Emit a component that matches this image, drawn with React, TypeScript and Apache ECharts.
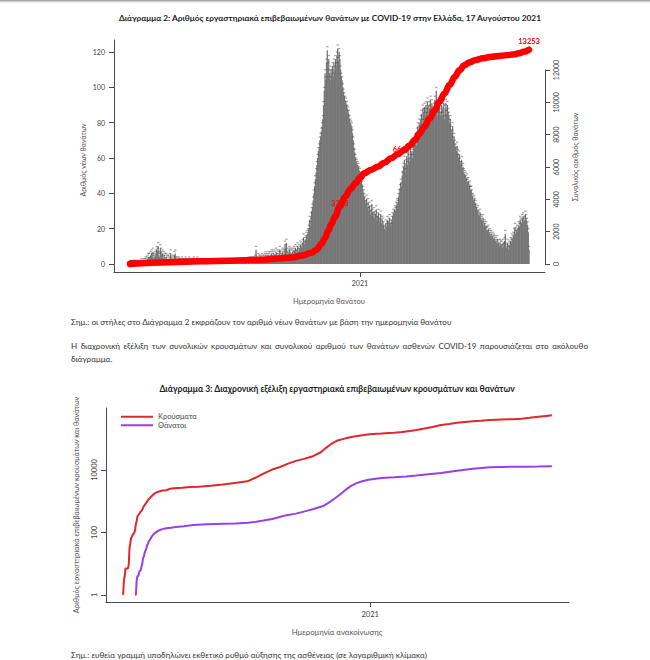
import { useEffect, useRef } from "react";
import * as echarts from "echarts";

const FONT = "Lato, 'Noto Sans', 'DejaVu Sans', sans-serif";

// ---------- Διάγραμμα 2: daily deaths by date of death (from 26 Feb 2020) ----------
const deathsFeb2020 = [0, 0, 0, 0];
const deathsMar2020 = [0, 0, 0, 0, 0, 0, 0, 0, 0, 0, 0, 1, 0, 0, 1, 0, 1, 2, 1, 2, 3, 4, 4, 2, 5, 6, 4, 7, 3, 4, 5];
const deathsApr2020 = [6, 8, 7, 10, 5, 4, 9, 7, 5, 6, 3, 5, 4, 3, 4, 2, 3, 3, 2, 4, 6, 2, 1, 3, 2, 5, 6, 2, 1, 2];
const deathsMay2020 = [1, 2, 1, 1, 0, 2, 1, 1, 0, 1, 2, 1, 1, 0, 1, 2, 1, 1, 0, 1, 1, 2, 1, 0, 1, 1, 2, 1, 0, 1, 1];
const deathsJun2020 = [1, 0, 1, 0, 1, 1, 0, 0, 1, 0, 1, 1, 0, 0, 1, 0, 1, 0, 0, 1, 0, 1, 0, 1, 1, 0, 0, 1, 0, 0];
const deathsJul2020 = [0, 1, 0, 0, 1, 0, 1, 0, 0, 1, 0, 0, 1, 0, 1, 0, 0, 1, 0, 1, 0, 0, 1, 0, 1, 1, 0, 1, 0, 1, 1];
const deathsAug2020 = [1, 0, 1, 1, 2, 1, 0, 2, 1, 1, 2, 1, 3, 8, 1, 2, 4, 3, 2, 3, 2, 4, 3, 2, 3, 4, 5, 3, 4, 3, 5];
const deathsSep2020 = [4, 5, 3, 6, 5, 4, 6, 5, 3, 7, 6, 4, 5, 6, 8, 5, 4, 6, 7, 5, 6, 11, 9, 12, 5, 7, 6, 8, 7, 6];
const deathsOct2020 = [6, 7, 5, 8, 7, 9, 6, 8, 10, 7, 9, 8, 11, 10, 9, 12, 15, 11, 13, 14, 16, 17, 18, 20, 25, 22, 27, 30, 32, 36, 40];
const deathsNov2020 = [44, 48, 52, 56, 60, 64, 66, 70, 72, 75, 78, 82, 90, 98, 108, 104, 114, 121, 112, 116, 108, 104, 110, 108, 112, 106, 114, 110, 116, 112];
const deathsDec2020 = [118, 122, 115, 120, 116, 110, 106, 104, 100, 97, 95, 93, 92, 90, 88, 87, 85, 82, 80, 79, 78, 74, 70, 66, 63, 60, 58, 57, 56, 55, 53];
const deathsJan2021 = [52, 50, 48, 45, 42, 40, 38, 36, 34, 37, 32, 35, 30, 33, 28, 31, 34, 29, 27, 30, 26, 28, 31, 25, 27, 29, 24, 26, 28, 23, 25];
const deathsFeb2021 = [24, 22, 20, 19, 23, 21, 25, 22, 24, 26, 23, 21, 25, 27, 29, 28, 31, 30, 33, 35, 34, 38, 40, 43, 46, 44, 50, 53];
const deathsMar2021 = [55, 59, 52, 57, 61, 56, 64, 60, 58, 66, 63, 64, 60, 68, 65, 70, 72, 67, 75, 78, 73, 80, 76, 82, 85, 80, 88, 86, 89, 84, 90];
const deathsApr2021 = [86, 92, 84, 90, 88, 93, 82, 91, 87, 85, 89, 93, 87, 98, 90, 84, 92, 88, 86, 84, 90, 84, 89, 91, 82, 88, 91, 85, 90, 86];
const deathsMay2021 = [84, 80, 82, 76, 74, 78, 70, 72, 68, 66, 64, 67, 63, 60, 62, 58, 56, 59, 54, 55, 52, 51, 50, 48, 49, 46, 47, 44, 45, 42, 42];
const deathsJun2021 = [40, 38, 36, 37, 35, 34, 32, 30, 31, 28, 27, 29, 26, 25, 24, 26, 22, 23, 21, 22, 19, 19, 20, 17, 18, 16, 17, 15, 16, 14];
const deathsJul2021 = [15, 14, 13, 12, 14, 11, 12, 10, 12, 11, 11, 9, 12, 10, 13, 17, 10, 9, 12, 8, 11, 10, 13, 12, 15, 14, 16, 18, 21, 17, 19];
const deathsAug2021 = [20, 18, 22, 21, 25, 24, 23, 26, 27, 24, 25, 28, 26, 24, 22, 18, 8];

// cumulative deaths (red line)
const cumDates = ["2020-02-26", "2020-04-20", "2020-06-01", "2020-07-10", "2020-08-20", "2020-09-10", "2020-10-01", "2020-10-15", "2020-10-28", "2020-11-04", "2020-11-10", "2020-11-15", "2020-11-19", "2020-11-24", "2020-11-28", "2020-12-05", "2020-12-12", "2020-12-19", "2020-12-26", "2021-01-01", "2021-01-07", "2021-01-16", "2021-01-25", "2021-02-03", "2021-02-12", "2021-02-21", "2021-03-02", "2021-03-09", "2021-03-16", "2021-03-22", "2021-03-29", "2021-04-05", "2021-04-12", "2021-04-18", "2021-04-25", "2021-05-02", "2021-05-09", "2021-05-15", "2021-05-22", "2021-05-29", "2021-06-05", "2021-06-16", "2021-06-28", "2021-07-10", "2021-07-21", "2021-07-28", "2021-08-03", "2021-08-10", "2021-08-17"];
const cumValues = [0, 110, 170, 200, 260, 330, 400, 520, 700, 900, 1250, 1600, 2050, 2500, 2900, 3560, 4160, 4620, 4990, 5330, 5610, 5830, 6020, 6270, 6540, 6790, 7050, 7330, 7670, 8050, 8490, 9000, 9520, 10030, 10550, 11080, 11580, 11980, 12300, 12480, 12610, 12730, 12820, 12880, 12930, 12970, 13030, 13130, 13253];

// red annotations on the cumulative line
const annotDates = ["2020-12-05", "2021-02-26"];
const annotLevels = [3773, 7052];
const annotTexts = ["3313", "6617"];

const xTickDates = ["2021-01-01"];
const xTickLabels = ["2021"];

// ---------- Διάγραμμα 3: cumulative cases / deaths (log scale) ----------
const casesDates = ["2020-02-26", "2020-02-27", "2020-02-28", "2020-02-29", "2020-03-01", "2020-03-02", "2020-03-03", "2020-03-04", "2020-03-05", "2020-03-06", "2020-03-07", "2020-03-08", "2020-03-09", "2020-03-10", "2020-03-11", "2020-03-12", "2020-03-13", "2020-03-14", "2020-03-15", "2020-03-16", "2020-03-17", "2020-03-18", "2020-03-19", "2020-03-20", "2020-03-21", "2020-03-22", "2020-03-23", "2020-03-24", "2020-03-25", "2020-03-26", "2020-03-27", "2020-03-28", "2020-03-29", "2020-03-30", "2020-03-31",
  "2020-04-05", "2020-04-10", "2020-04-15", "2020-04-20", "2020-04-25", "2020-04-30", "2020-05-10", "2020-05-20", "2020-05-31", "2020-06-15", "2020-06-30", "2020-07-15", "2020-07-31", "2020-08-10", "2020-08-20", "2020-08-31", "2020-09-10", "2020-09-20", "2020-09-30", "2020-10-10", "2020-10-20", "2020-10-31", "2020-11-07", "2020-11-14", "2020-11-21", "2020-11-30", "2020-12-10", "2020-12-20", "2020-12-31",
  "2021-01-15", "2021-01-31", "2021-02-10", "2021-02-20", "2021-02-28", "2021-03-10", "2021-03-20", "2021-03-31", "2021-04-10", "2021-04-20", "2021-04-30", "2021-05-10", "2021-05-20", "2021-05-31", "2021-06-15", "2021-06-30", "2021-07-10", "2021-07-20", "2021-07-31", "2021-08-10", "2021-08-17"];
const casesValues = [1, 3, 4, 7, 7, 7, 7, 9, 31, 45, 66, 73, 84, 89, 99, 117, 190, 228, 331, 352, 387, 418, 464, 495, 530, 624, 695, 743, 821, 892, 966, 1061, 1156, 1212, 1314,
  1735, 2011, 2192, 2245, 2506, 2591, 2710, 2850, 2917, 3121, 3409, 3826, 4337, 5623, 7684, 10317, 12452, 15928, 19613, 22652, 26925, 36934, 52254, 70308, 88302, 101287, 115471, 127099, 138850,
  146458, 156093, 164416, 178000, 190160, 212000, 238000, 275000, 296000, 324000, 344000, 363000, 375000, 398000, 415000, 424000, 440000, 470000, 509000, 540000, 563000];
const deathsDates = ["2020-03-12", "2020-03-13", "2020-03-14", "2020-03-15", "2020-03-16", "2020-03-17", "2020-03-18", "2020-03-19", "2020-03-20", "2020-03-21", "2020-03-22", "2020-03-23", "2020-03-24", "2020-03-25", "2020-03-26", "2020-03-27", "2020-03-28", "2020-03-29", "2020-03-30", "2020-03-31", "2020-04-02", "2020-04-04", "2020-04-07", "2020-04-10", "2020-04-14", "2020-04-20", "2020-04-26", "2020-05-02", "2020-05-12", "2020-05-24", "2020-06-10", "2020-07-01", "2020-07-16", "2020-08-01", "2020-08-11", "2020-08-20", "2020-08-31", "2020-09-07", "2020-09-15", "2020-09-30", "2020-10-12", "2020-10-22", "2020-11-03", "2020-11-10", "2020-11-17", "2020-11-25", "2020-12-01", "2020-12-08", "2020-12-15", "2020-12-22", "2020-12-30", "2021-01-10", "2021-01-20", "2021-01-31", "2021-02-15", "2021-02-28", "2021-03-15", "2021-03-31", "2021-04-11", "2021-04-20", "2021-04-30", "2021-05-10", "2021-05-21", "2021-05-31", "2021-06-15", "2021-06-30", "2021-07-15", "2021-07-31", "2021-08-17"];
const deathsValues = [1, 1, 3, 4, 4, 5, 6, 6, 8, 10, 15, 17, 22, 26, 30, 38, 43, 50, 55, 60, 74, 87, 100, 113, 125, 135, 142, 150, 158, 172, 182, 189, 192, 205, 220, 240, 268, 300, 340, 400, 480, 560, 700, 900, 1200, 1700, 2300, 3100, 3800, 4350, 4850, 5300, 5600, 5850, 6230, 6600, 7300, 7950, 8800, 9500, 10250, 11000, 11650, 12170, 12520, 12700, 12810, 12990, 13253];
const seriesNames = ["Κρούσματα", "Θάνατοι"];

// ---------- helpers ----------
const DAY0 = Date.UTC(2020, 1, 26);
const dayOf = (s: string) => {
  const [y, m, d] = s.split("-").map(Number);
  return Math.round((Date.UTC(y, m - 1, d) - DAY0) / 86400000);
};

const dailyDeaths = [deathsFeb2020, deathsMar2020, deathsApr2020, deathsMay2020, deathsJun2020, deathsJul2020, deathsAug2020, deathsSep2020, deathsOct2020, deathsNov2020, deathsDec2020, deathsJan2021, deathsFeb2021, deathsMar2021, deathsApr2021, deathsMay2021, deathsJun2021, deathsJul2021, deathsAug2021].flat();
const barData = dailyDeaths.map((v, i) => [i, v]);
const cumData = cumDates.map((d, i) => [dayOf(d), cumValues[i]]);
const lastCum = cumData[cumData.length - 1];
const annotData = annotDates.map((d, i) => ({ value: [dayOf(d), annotLevels[i]], name: annotTexts[i] }));
const xTickDays = xTickDates.map(dayOf);
const casesData = casesDates.map((d, i) => [dayOf(d), casesValues[i]]);
const deathsData = deathsDates.map((d, i) => [dayOf(d), deathsValues[i]]);

// layout
const X_MIN = -21.5;
const X_MAX = 559.5;
const LOG_MIN = -0.23;
const LOG_MAX = 5.986;
const B2_LEFT = 106;
const B2_W = 463;
const B2_TOP = 408;
const B2_H = 194;
const PPD = B2_H / (LOG_MAX - LOG_MIN);
const T2_TOP = B2_TOP + B2_H - (4 - LOG_MIN) * PPD;
const T2_H = 4 * PPD;

const AX = { color: "#4a4a4a", width: 1 };
const TL = { fontSize: 7, color: "#444", fontFamily: FONT };
const TL2 = { fontSize: 7.5, color: "#444", fontFamily: FONT };
const RED = "#ff0000";
const RED2 = "#e3262b";
const PURPLE = "#9b3fe4";

const hiddenX = (g: number) => ({ gridIndex: g, type: "value", min: X_MIN, max: X_MAX, show: false });
const tickX = (g: number, margin: number, tl: any) => ({
  gridIndex: g,
  type: "value",
  min: X_MIN,
  max: X_MAX,
  axisLine: { show: true, onZero: false, lineStyle: AX },
  axisTick: { show: true, customValues: xTickDays, length: 5, lineStyle: AX },
  axisLabel: {
    show: true,
    customValues: xTickDays,
    formatter: (v: number) => xTickLabels[xTickDays.indexOf(Math.round(v))] ?? "",
    margin,
    ...tl,
  },
  splitLine: { show: false },
});

const gtext = (text: string, x: number, y: number, size: number, opts: any = {}) => ({
  type: "text",
  x,
  y,
  rotation: opts.rotation ?? 0,
  style: {
    text,
    fontSize: size,
    fontFamily: FONT,
    fontWeight: opts.bold ? "bold" : "normal",
    fill: opts.fill ?? "#555",
    align: opts.align ?? "center",
    verticalAlign: "middle",
  },
  silent: true,
});

const redLabel = { color: RED, fontSize: 7.5, fontWeight: "bold", fontFamily: FONT, textBorderWidth: 0, opacity: 1 };

const option: any = {
  animation: false,
  textStyle: { fontFamily: FONT },
  grid: [
    { left: 114, top: 40, width: 431, height: 232 },
    { left: 114, top: 52, width: 431, height: 212 },
    { left: 114, top: 70, width: 431, height: 194 },
    { left: B2_LEFT, top: B2_TOP, width: B2_W, height: B2_H },
    { left: B2_LEFT, top: T2_TOP, width: B2_W, height: T2_H },
  ],
  xAxis: [tickX(0, 7, TL), hiddenX(1), hiddenX(2), tickX(3, 8, TL2), hiddenX(4)],
  yAxis: [
    { gridIndex: 0, type: "value", min: 0, max: 1, axisLine: { show: true, onZero: false, lineStyle: AX }, axisTick: { show: false }, axisLabel: { show: false }, splitLine: { show: false } },
    { gridIndex: 1, type: "value", min: 0, max: 120, interval: 20, axisLine: { show: false, onZero: false }, axisTick: { show: true, length: 5, lineStyle: AX }, axisLabel: { margin: 9, ...TL }, splitLine: { show: false } },
    { gridIndex: 2, type: "value", position: "right", min: 0, max: 12000, interval: 2000, axisLine: { show: true, onZero: false, lineStyle: AX }, axisTick: { show: true, length: 5, lineStyle: AX }, axisLabel: { rotate: 90, margin: 7, formatter: (v: number) => String(v), ...TL }, splitLine: { show: false } },
    { gridIndex: 3, type: "log", min: Math.pow(10, LOG_MIN), max: Math.pow(10, LOG_MAX), axisLine: { show: true, onZero: false, lineStyle: AX }, axisTick: { show: false }, axisLabel: { show: false }, splitLine: { show: false }, minorTick: { show: false } },
    { gridIndex: 4, type: "log", logBase: 100, min: 1, max: 10000, axisLine: { show: false, onZero: false }, axisTick: { show: true, length: 5, lineStyle: AX }, axisLabel: { rotate: 90, margin: 8, formatter: (v: number) => String(Math.round(v)), ...TL2 }, splitLine: { show: false } },
  ],
  legend: {
    data: seriesNames,
    orient: "vertical",
    left: 121,
    top: 412.5,
    padding: 0,
    itemWidth: 32,
    itemHeight: 2,
    itemGap: 0,
    icon: "rect",
    textStyle: { fontSize: 7.5, color: "#444", lineHeight: 8.5, fontFamily: FONT },
  },
  series: [
    { type: "bar", xAxisIndex: 1, yAxisIndex: 1, data: barData, barWidth: 1.3, itemStyle: { color: "#777777" }, clip: false, silent: true, z: 2 },
    { type: "scatter", xAxisIndex: 1, yAxisIndex: 1, data: barData, symbol: "rect", symbolSize: [2.4, 1.2], symbolOffset: [0, -3.5], itemStyle: { color: "#333", opacity: 0.45 }, clip: false, silent: true, z: 3 },
    { type: "scatter", xAxisIndex: 2, yAxisIndex: 2, data: annotData, symbolSize: 1, itemStyle: { color: "transparent" }, label: { show: true, position: "inside", formatter: "{b}", ...redLabel }, silent: true, z: 4 },
    { type: "line", xAxisIndex: 2, yAxisIndex: 2, data: cumData, smooth: 0.4, smoothMonotone: "x", showSymbol: false, lineStyle: { color: RED, width: 6.5, cap: "round", join: "round" }, clip: false, silent: true, z: 5 },
    { type: "scatter", xAxisIndex: 2, yAxisIndex: 2, data: [{ value: lastCum, name: String(lastCum[1]) }], symbolSize: 1, itemStyle: { color: "transparent" }, label: { show: true, position: "top", distance: 4, formatter: "{b}", ...redLabel }, clip: false, silent: true, z: 6 },
    { type: "line", name: seriesNames[0], xAxisIndex: 3, yAxisIndex: 3, data: casesData, showSymbol: false, lineStyle: { color: RED2, width: 2 }, itemStyle: { color: RED2 }, silent: true },
    { type: "line", name: seriesNames[1], xAxisIndex: 3, yAxisIndex: 3, data: deathsData, showSymbol: false, lineStyle: { color: PURPLE, width: 2 }, itemStyle: { color: PURPLE }, silent: true },
  ],
  graphic: {
    elements: [
      {
        type: "rect",
        shape: { x: 0, y: 0, width: 650, height: 4 },
        style: { fill: { type: "linear", x: 0, y: 0, x2: 0, y2: 1, colorStops: [{ offset: 0, color: "#8a8a8a" }, { offset: 1, color: "rgba(255,255,255,0)" }] } },
        silent: true,
      },
      gtext("Διάγραμμα 2: Αριθμός εργαστηριακά επιβεβαιωμένων θανάτων με COVID-19 στην Ελλάδα, 17 Αυγούστου 2021", 330, 18, 8.3, { bold: true, fill: "#222" }),
      gtext("Αριθμός νέων θανάτων", 83, 160, 7, { rotation: Math.PI / 2 }),
      gtext("Συνολικός αριθμός θανάτων", 575, 157, 7, { rotation: Math.PI / 2 }),
      gtext("Ημερομηνία θανάτου", 329, 301, 7.5),
      gtext("Διάγραμμα 3: Διαχρονική εξέλιξη εργαστηριακά επιβεβαιωμένων κρουσμάτων και θανάτων", 337, 389, 8.6, { bold: true, fill: "#222" }),
      gtext("Αριθμός εργαστηριακά επιβεβαιωμένων κρουσμάτων και θανάτων", 76, 505, 7.3, { rotation: Math.PI / 2 }),
      gtext("Ημερομηνία ανακοίνωσης", 337, 632, 7.8),
    ],
  },
};

const para: any = {
  position: "absolute",
  left: 71,
  fontFamily: FONT,
  fontSize: 8.1,
  lineHeight: "12px",
  color: "#333",
  whiteSpace: "nowrap",
  margin: 0,
};

export default function App() {
  const ref = useRef<HTMLDivElement>(null);
  useEffect(() => {
    const chart = echarts.init(ref.current!, null, { renderer: "svg", width: 650, height: 660 });
    chart.setOption(option);
    return () => chart.dispose();
  }, []);
  return (
    <div style={{ position: "absolute", left: 0, top: 0, width: 650, height: 660, background: "#fff", overflow: "hidden" }}>
      <div ref={ref} style={{ position: "absolute", left: 0, top: 0, width: 650, height: 660 }} />
      <div style={{ ...para, top: 316 }}>Σημ.: οι στήλες στο Διάγραμμα 2 εκφράζουν τον αριθμό νέων θανάτων με βάση την ημερομηνία θανάτου</div>
      <div style={{ ...para, top: 340, width: 517, textAlign: "justify", textAlignLast: "justify" }}>
        Η διαχρονική εξέλιξη των συνολικών κρουσμάτων και συνολικού αριθμού των θανάτων ασθενών COVID-19 παρουσιάζεται στο ακόλουθο
      </div>
      <div style={{ ...para, top: 353 }}>διάγραμμα.</div>
      <div style={{ ...para, top: 649 }}>Σημ.: ευθεία γραμμή υποδηλώνει εκθετικό ρυθμό αύξησης της ασθένειας (σε λογαριθμική κλίμακα)</div>
    </div>
  );
}
